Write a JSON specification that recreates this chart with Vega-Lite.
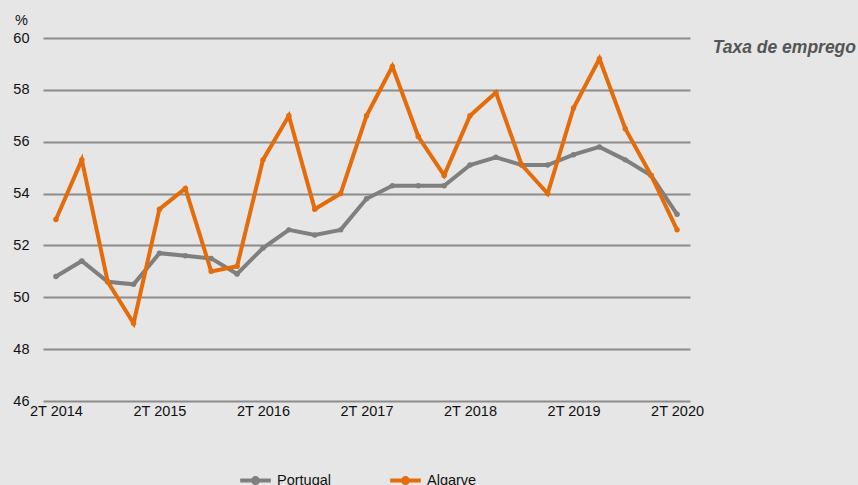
{
  "$schema": "https://vega.github.io/schema/vega-lite/v6.json",
  "width": 647,
  "height": 363,
  "autosize": "none",
  "padding": {"left": 43, "top": 38, "right": 168, "bottom": 84},
  "background": "#e6e6e6",
  "config": {
    "view": {"stroke": null},
    "font": "Liberation Sans"
  },
  "title": {
    "text": "Taxa de emprego",
    "anchor": "end",
    "frame": "group",
    "orient": "top",
    "align": "right",
    "dx": 166,
    "dy": 48,
    "fontSize": 17.5,
    "fontWeight": "bold",
    "fontStyle": "italic",
    "color": "#555555",
    "font": "Liberation Sans"
  },
  "data": {
    "values": [
      {"q": "2T 2014", "s": "Portugal", "v": 50.8}, {"q": "2T 2014", "s": "Algarve", "v": 53.0},
      {"q": "3T 2014", "s": "Portugal", "v": 51.4}, {"q": "3T 2014", "s": "Algarve", "v": 55.3},
      {"q": "4T 2014", "s": "Portugal", "v": 50.6}, {"q": "4T 2014", "s": "Algarve", "v": 50.6},
      {"q": "1T 2015", "s": "Portugal", "v": 50.5}, {"q": "1T 2015", "s": "Algarve", "v": 49.0},
      {"q": "2T 2015", "s": "Portugal", "v": 51.7}, {"q": "2T 2015", "s": "Algarve", "v": 53.4},
      {"q": "3T 2015", "s": "Portugal", "v": 51.6}, {"q": "3T 2015", "s": "Algarve", "v": 54.2},
      {"q": "4T 2015", "s": "Portugal", "v": 51.5}, {"q": "4T 2015", "s": "Algarve", "v": 51.0},
      {"q": "1T 2016", "s": "Portugal", "v": 50.9}, {"q": "1T 2016", "s": "Algarve", "v": 51.2},
      {"q": "2T 2016", "s": "Portugal", "v": 51.9}, {"q": "2T 2016", "s": "Algarve", "v": 55.3},
      {"q": "3T 2016", "s": "Portugal", "v": 52.6}, {"q": "3T 2016", "s": "Algarve", "v": 57.0},
      {"q": "4T 2016", "s": "Portugal", "v": 52.4}, {"q": "4T 2016", "s": "Algarve", "v": 53.4},
      {"q": "1T 2017", "s": "Portugal", "v": 52.6}, {"q": "1T 2017", "s": "Algarve", "v": 54.0},
      {"q": "2T 2017", "s": "Portugal", "v": 53.8}, {"q": "2T 2017", "s": "Algarve", "v": 57.0},
      {"q": "3T 2017", "s": "Portugal", "v": 54.3}, {"q": "3T 2017", "s": "Algarve", "v": 58.9},
      {"q": "4T 2017", "s": "Portugal", "v": 54.3}, {"q": "4T 2017", "s": "Algarve", "v": 56.2},
      {"q": "1T 2018", "s": "Portugal", "v": 54.3}, {"q": "1T 2018", "s": "Algarve", "v": 54.7},
      {"q": "2T 2018", "s": "Portugal", "v": 55.1}, {"q": "2T 2018", "s": "Algarve", "v": 57.0},
      {"q": "3T 2018", "s": "Portugal", "v": 55.4}, {"q": "3T 2018", "s": "Algarve", "v": 57.9},
      {"q": "4T 2018", "s": "Portugal", "v": 55.1}, {"q": "4T 2018", "s": "Algarve", "v": 55.1},
      {"q": "1T 2019", "s": "Portugal", "v": 55.1}, {"q": "1T 2019", "s": "Algarve", "v": 54.0},
      {"q": "2T 2019", "s": "Portugal", "v": 55.5}, {"q": "2T 2019", "s": "Algarve", "v": 57.3},
      {"q": "3T 2019", "s": "Portugal", "v": 55.8}, {"q": "3T 2019", "s": "Algarve", "v": 59.2},
      {"q": "4T 2019", "s": "Portugal", "v": 55.3}, {"q": "4T 2019", "s": "Algarve", "v": 56.5},
      {"q": "1T 2020", "s": "Portugal", "v": 54.7}, {"q": "1T 2020", "s": "Algarve", "v": 54.7},
      {"q": "2T 2020", "s": "Portugal", "v": 53.2}, {"q": "2T 2020", "s": "Algarve", "v": 52.6}
    ]
  },
  "mark": {
    "type": "line",
    "strokeWidth": 4,
    "point": {"size": 30, "filled": true}
  },
  "encoding": {
    "x": {
      "field": "q",
      "type": "ordinal",
      "sort": null,
      "scale": {"type": "point", "padding": 0.5},
      "axis": {
        "title": null,
        "labelAngle": 0,
        "labelExpr": "indexof(datum.label, '2T') === 0 ? datum.label : ''",
        "ticks": false,
        "domain": false,
        "grid": false,
        "labelFontSize": 14.5,
        "labelColor": "#111111",
        "labelPadding": 3,
        "labelFont": "Liberation Sans"
      }
    },
    "y": {
      "field": "v",
      "type": "quantitative",
      "scale": {"domain": [46, 60], "zero": false, "nice": false},
      "axis": {
        "title": "%",
        "titleAngle": 0,
        "titleX": -22,
        "titleY": -18,
        "titleAlign": "center",
        "titleBaseline": "middle",
        "titleFontWeight": "normal",
        "titleFontSize": 14.5,
        "titleColor": "#111111",
        "titleFont": "Liberation Sans",
        "values": [46, 48, 50, 52, 54, 56, 58, 60],
        "ticks": false,
        "domain": false,
        "grid": true,
        "gridColor": "#8c8c8c",
        "gridWidth": 2,
        "labelFontSize": 14.5,
        "labelColor": "#111111",
        "labelPadding": 14,
        "labelFont": "Liberation Sans"
      }
    },
    "color": {
      "field": "s",
      "type": "nominal",
      "scale": {"domain": ["Portugal", "Algarve"], "range": ["#7f7f7f", "#e46c0a"]},
      "legend": {
        "title": null,
        "orient": "none",
        "direction": "horizontal",
        "columns": 2,
        "legendX": 193,
        "legendY": 423,
        "symbolType": "M-0.875,0H0.875M0.14,0A0.14,0.14,0,1,1,-0.14,0A0.14,0.14,0,1,1,0.14,0",
        "symbolSize": 1225,
        "symbolStrokeWidth": 4,
        "labelFontSize": 14.5,
        "labelColor": "#111111",
        "labelOffset": 2,
        "columnPadding": 50,
        "labelFont": "Liberation Sans"
      }
    }
  }
}
